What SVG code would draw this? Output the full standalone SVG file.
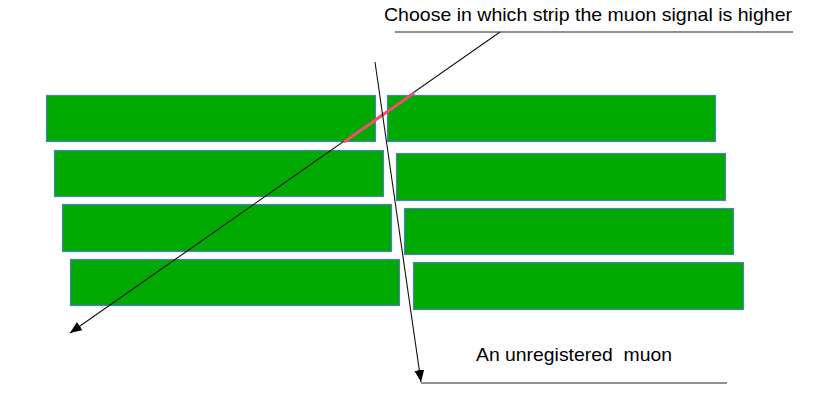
<svg xmlns="http://www.w3.org/2000/svg" width="817" height="402" viewBox="0 0 817 402">
<style>
.strip{fill:#00aa00;stroke:#4f7fc0;stroke-width:1.2}
.ln{stroke:#111;stroke-width:1.1;fill:none}
.ul{stroke:#222;stroke-width:1.2;fill:none}
.lbl{font-family:"Liberation Sans",Arial,sans-serif;font-size:19px;fill:#000}
</style>
<defs>
<marker id="ah" viewBox="0 0 12 10" refX="12" refY="5" markerWidth="12" markerHeight="10" markerUnits="userSpaceOnUse" orient="auto">
<path d="M0,0 L12,5 L0,10 Z" fill="#000"/>
</marker>
</defs>
<g id="strip-L1"><rect class="strip" x="46.5" y="95.5" width="329" height="46"/></g>
<g id="strip-L2"><rect class="strip" x="54.5" y="150.5" width="329" height="46"/></g>
<g id="strip-L3"><rect class="strip" x="62.5" y="204.5" width="329" height="47"/></g>
<g id="strip-L4"><rect class="strip" x="70.5" y="259.5" width="329" height="46"/></g>
<g id="strip-R1"><rect class="strip" x="387.5" y="95.5" width="328" height="46"/></g>
<g id="strip-R2"><rect class="strip" x="396.5" y="153.5" width="329" height="47"/></g>
<g id="strip-R3"><rect class="strip" x="404.5" y="208.5" width="329" height="46"/></g>
<g id="strip-R4"><rect class="strip" x="413.5" y="262.5" width="330" height="47"/></g>
<g id="connectors">
<line class="ln" x1="500" y1="32" x2="70" y2="333" marker-end="url(#ah)"/>
<line x1="414" y1="93" x2="344" y2="142" stroke="#f0506e" stroke-width="3"/>
<line class="ln" x1="375" y1="62" x2="421" y2="382" marker-end="url(#ah)"/>
<line class="ul" x1="395" y1="32" x2="793" y2="32"/>
<line class="ul" x1="421" y1="383" x2="727" y2="383"/>
</g>
<g id="label-top"><text class="lbl" x="384" y="21" textLength="408" lengthAdjust="spacingAndGlyphs">Choose in which strip the muon signal is higher</text></g>
<g id="label-bottom"><text class="lbl" x="476" y="361" textLength="196" lengthAdjust="spacingAndGlyphs" xml:space="preserve">An unregistered  muon</text></g>
</svg>
